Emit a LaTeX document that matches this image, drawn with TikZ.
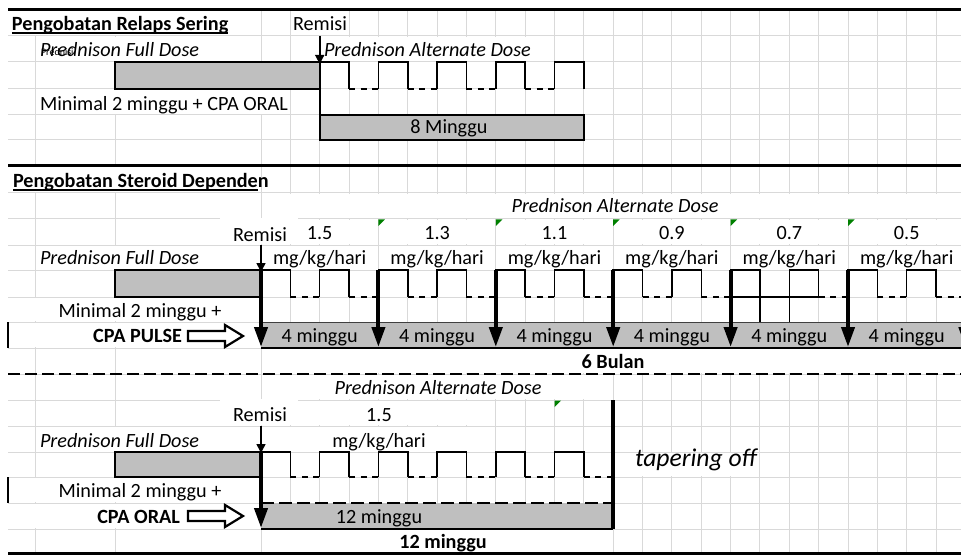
\documentclass[tikz,border=0pt]{standalone}
\usepackage{fontspec}
\setmainfont{Carlito}
\usetikzlibrary{arrows.meta}
\definecolor{gridc}{RGB}{217,217,217}
\definecolor{barc}{RGB}{191,191,191}
\definecolor{markc}{RGB}{0,128,0}
\def\rowtops{{9,36,62,89,115,140,166,193,219,245,270,297,322,348,374,400,426,452,477,503,529,554}}
\newcommand\colx[1]{(261+29.35*((#1)-3))}
\newcommand\hidecells[3]{%
  \pgfmathtruncatemacro\hcN{#1+1}%
  \pgfmathsetmacro\hcT{\rowtops[#1]+1}%
  \pgfmathsetmacro\hcB{\rowtops[\hcN]-1}%
  \fill[white] ({#2+1.2},\hcT) rectangle ({#3-1.2},\hcB);}
\newsavebox\undlbox
\newcommand\undl[1]{\sbox\undlbox{#1}\rlap{\rule[-3pt]{\wd\undlbox}{1.5pt}}\usebox\undlbox}
\begin{document}
\begin{tikzpicture}[x=1pt,y=-1pt,
  every node/.style={inner sep=0pt,outer sep=0pt},
  lab/.style={font=\fontsize{20.2}{23}\selectfont},
  labi/.style={font=\fontsize{20.2}{23}\selectfont\itshape},
  labb/.style={font=\fontsize{20.2}{23}\selectfont\bfseries},
  gridline/.style={draw=gridc,line width=1pt},
  bar/.style={fill=barc,draw=black,line width=1.4pt},
  pulse/.style={draw=black,line width=1.5pt,line join=miter},
  pgap/.style={draw=black,line width=1.5pt,dash pattern=on 6pt off 5.5pt},
  thinarrow/.style={draw=black,line width=1.6pt,-{Triangle[width=9pt,length=9pt]}},
  thickarrow/.style={draw=black,line width=4pt,-{Triangle[width=13pt,length=20pt]}},
  hollow/.style={draw=black,line width=2.2pt,fill=white,line join=miter},
  marker/.style={fill=markc},
  rule/.style={draw=black,line width=3pt}]
\useasboundingbox (0,0) rectangle (961,556);
\clip (0,0) rectangle (961,556);
\fill[white] (0,0) rectangle (961,556);
% grid
\foreach \r in {1,...,20} {\pgfmathsetmacro\gy{\rowtops[\r]}\draw[gridline] (8,\gy) -- (961,\gy);}
\foreach \xx in {35,115} \draw[gridline] (\xx,9) -- (\xx,554);
\foreach \i in {3,...,26} \draw[gridline] ({\colx{\i}},9) -- ({\colx{\i}},554);
% hidden grid parts (overflowing / merged cells)
\hidecells{0}{8}{261}
\hidecells{0}{\colx{4}}{\colx{6}}
\hidecells{1}{35}{261}
\hidecells{1}{\colx{5}}{\colx{13}}
\hidecells{3}{35}{\colx{4}}
\hidecells{6}{8}{261}
\hidecells{7}{261}{975}
\foreach \a in {3,7,11,15,19,23} {\hidecells{8}{\colx{\a}}{\colx{\a+4}}\hidecells{9}{\colx{\a}}{\colx{\a+4}}}
\hidecells{9}{35}{261}
\hidecells{11}{8}{261}
\hidecells{12}{8}{261}
\hidecells{13}{261}{975}
\hidecells{14}{261}{\colx{15}}
\hidecells{15}{261}{\colx{11}}
\hidecells{16}{35}{261}
\hidecells{16}{261}{\colx{11}}
\hidecells{17}{\colx{15}}{\colx{20}}
\hidecells{18}{8}{261}
\hidecells{19}{8}{261}
\hidecells{20}{261}{\colx{15}}
% section rules
\draw[rule] (8,9.5) -- (961,9.5);
\draw[rule] (8,166) -- (961,166);
\draw[rule] (8,553.5) -- (961,553.5);
\draw[draw=black,line width=2.7pt,dash pattern=on 12pt off 5pt] (8,374) -- (961,374);
\draw[draw=black,line width=2.5pt] (8,322) -- (8,348);
\draw[draw=black,line width=2.5pt] (8,477) -- (8,503);
% ---------- section 1 ----------
\draw[bar] (115,62) rectangle ({\colx{5}},89);
\draw[bar] ({\colx{5}},115) rectangle ({\colx{14}},140);
\foreach \k in {0,...,4} \draw[pulse] ({\colx{5+2*\k}},89) -- ({\colx{5+2*\k}},62) -- ({\colx{6+2*\k}},62) -- ({\colx{6+2*\k}},89);
\foreach \k in {0,...,3} \draw[pgap] ({\colx{6+2*\k}},89) -- ({\colx{7+2*\k}},89);
\draw[draw=black,line width=1.6pt] ({\colx{5}},62) -- ({\colx{5}},140);
\draw[thinarrow] ({\colx{5}},36) -- ({\colx{5}},64);
\node[labb,anchor=base west] (h1) at (12,31) {\undl{Pengobatan Relaps Sering}};
\node[lab,anchor=base west] (r1) at (293,31) {Remisi};
\node[labi,anchor=base west] (f1) at (40,57) {Prednison Full Dose};
\node[font=\fontsize{10}{12}\selectfont,anchor=base west] (f1s) at (41,56) {Prednisi};
\node[labi,anchor=base west] (a1) at (324,57) {Prednison Alternate Dose};
\node[lab,anchor=base west] (m1) at (40,111) {Minimal 2 minggu + CPA ORAL};
\node[lab,anchor=base] (w1) at (449,134) {8 Minggu};
% ---------- section 2 ----------
\fill[white] (220,218) rectangle (298,244.3);
\draw[bar] (115,270) rectangle (261,297);
\fill[barc] (261,322) rectangle (975,348);
\draw[draw=black!75,line width=1pt] (261,322) -- (975,322);
\draw[draw=black,line width=1.4pt] (261,348) -- (975,348);
\foreach \k in {0,...,11} \draw[pulse] ({\colx{3+2*\k}},297) -- ({\colx{3+2*\k}},270) -- ({\colx{4+2*\k}},270) -- ({\colx{4+2*\k}},297);
\foreach \k in {0,...,11} \draw[pgap] ({\colx{4+2*\k}},297) -- ({\colx{5+2*\k}},297);
\draw[pulse] ({\colx{20}},270) -- ({\colx{20}},322);
\draw[pulse] ({\colx{21}},270) -- ({\colx{21}},322);
\draw[pulse] ({\colx{19}},297) -- ({\colx{22}},297);
\draw[thinarrow] (261,245) -- (261,272);
\foreach \a in {3,7,11,15,19,23,27} \draw[thickarrow] ({\colx{\a}},270) -- ({\colx{\a}},347);
\foreach \a in {7,11,15,19,23} \fill[marker] ({\colx{\a}},219.5) -- ++(6.5,0) -- ++(-6.5,6.5) -- cycle;
\draw[hollow] (188,331) -- (225,331) -- (225,325) -- (243,336) -- (225,347) -- (225,341) -- (188,341) -- cycle;
\node[labb,anchor=base west] (h2) at (13,188) {\undl{Pengobatan Steroid Depende}n};
\node[labi,anchor=base] (a2) at (615,213) {Prednison Alternate Dose};
\node[lab,anchor=base] (r2) at (260,241) {Remisi};
\foreach \v [count=\n from 0] in {1.5,1.3,1.1,0.9,0.7,0.5} {
  \node[lab,anchor=base] (v\n) at ({\colx{5+4*\n}},240) {\v};
  \node[lab,anchor=base] (u\n) at ({\colx{5+4*\n}},265) {mg/kg/hari};
  \node[lab,anchor=base] (q\n) at ({\colx{5+4*\n}},342) {4 minggu};
}
\node[labi,anchor=base west] (f2) at (40,265) {Prednison Full Dose};
\node[lab,anchor=base] (m2) at (140,317) {Minimal 2 minggu +};
\node[labb,anchor=base east] (c2) at (182,342) {CPA PULSE};
\node[labb,anchor=base] (b2) at (613,368) {6 Bulan};
% ---------- section 3 ----------
\fill[white] (220,399) rectangle (298,425.3);
\draw[bar] (115,452) rectangle (261,477);
\fill[barc] (261,503) rectangle ({\colx{15}},529);
\draw[draw=black,line width=1.4pt] (261,529) -- ({\colx{15}},529);
\draw[draw=black,line width=1.4pt,dash pattern=on 13pt off 5pt] (261,503) -- ({\colx{15}},503);
\foreach \k in {0,...,5} \draw[pulse] ({\colx{3+2*\k}},477) -- ({\colx{3+2*\k}},452) -- ({\colx{4+2*\k}},452) -- ({\colx{4+2*\k}},477);
\foreach \k in {0,...,5} \draw[pgap] ({\colx{4+2*\k}},477) -- ({\colx{5+2*\k}},477);
\draw[draw=black,line width=3.5pt] ({\colx{15}},400) -- ({\colx{15}},529);
\draw[thinarrow] (261,426) -- (261,453);
\draw[thickarrow] (261,452) -- (261,528);
\fill[marker] ({\colx{13}},400.5) -- ++(6.5,0) -- ++(-6.5,6.5) -- cycle;
\draw[hollow] (188,511) -- (225,511) -- (225,505) -- (243,516) -- (225,527) -- (225,521) -- (188,521) -- cycle;
\node[labi,anchor=base] (a3) at (438,394) {Prednison Alternate Dose};
\node[lab,anchor=base] (r3) at (260,421) {Remisi};
\node[lab,anchor=base] (v3) at (379,421) {1.5};
\node[lab,anchor=base] (u3) at (379,447) {mg/kg/hari};
\node[labi,anchor=base west] (f3) at (40,447) {Prednison Full Dose};
\node[font=\fontsize{25.6}{30}\selectfont\itshape,anchor=base west] (t3) at (635,466) {tapering off};
\node[lab,anchor=base] (m3) at (140,497) {Minimal 2 minggu +};
\node[labb,anchor=base east] (c3) at (180,523) {CPA ORAL};
\node[lab,anchor=base] (w3) at (379,523) {12 minggu};
\node[labb,anchor=base] (d3) at (443,548) {12 minggu};
\end{tikzpicture}
\end{document}
